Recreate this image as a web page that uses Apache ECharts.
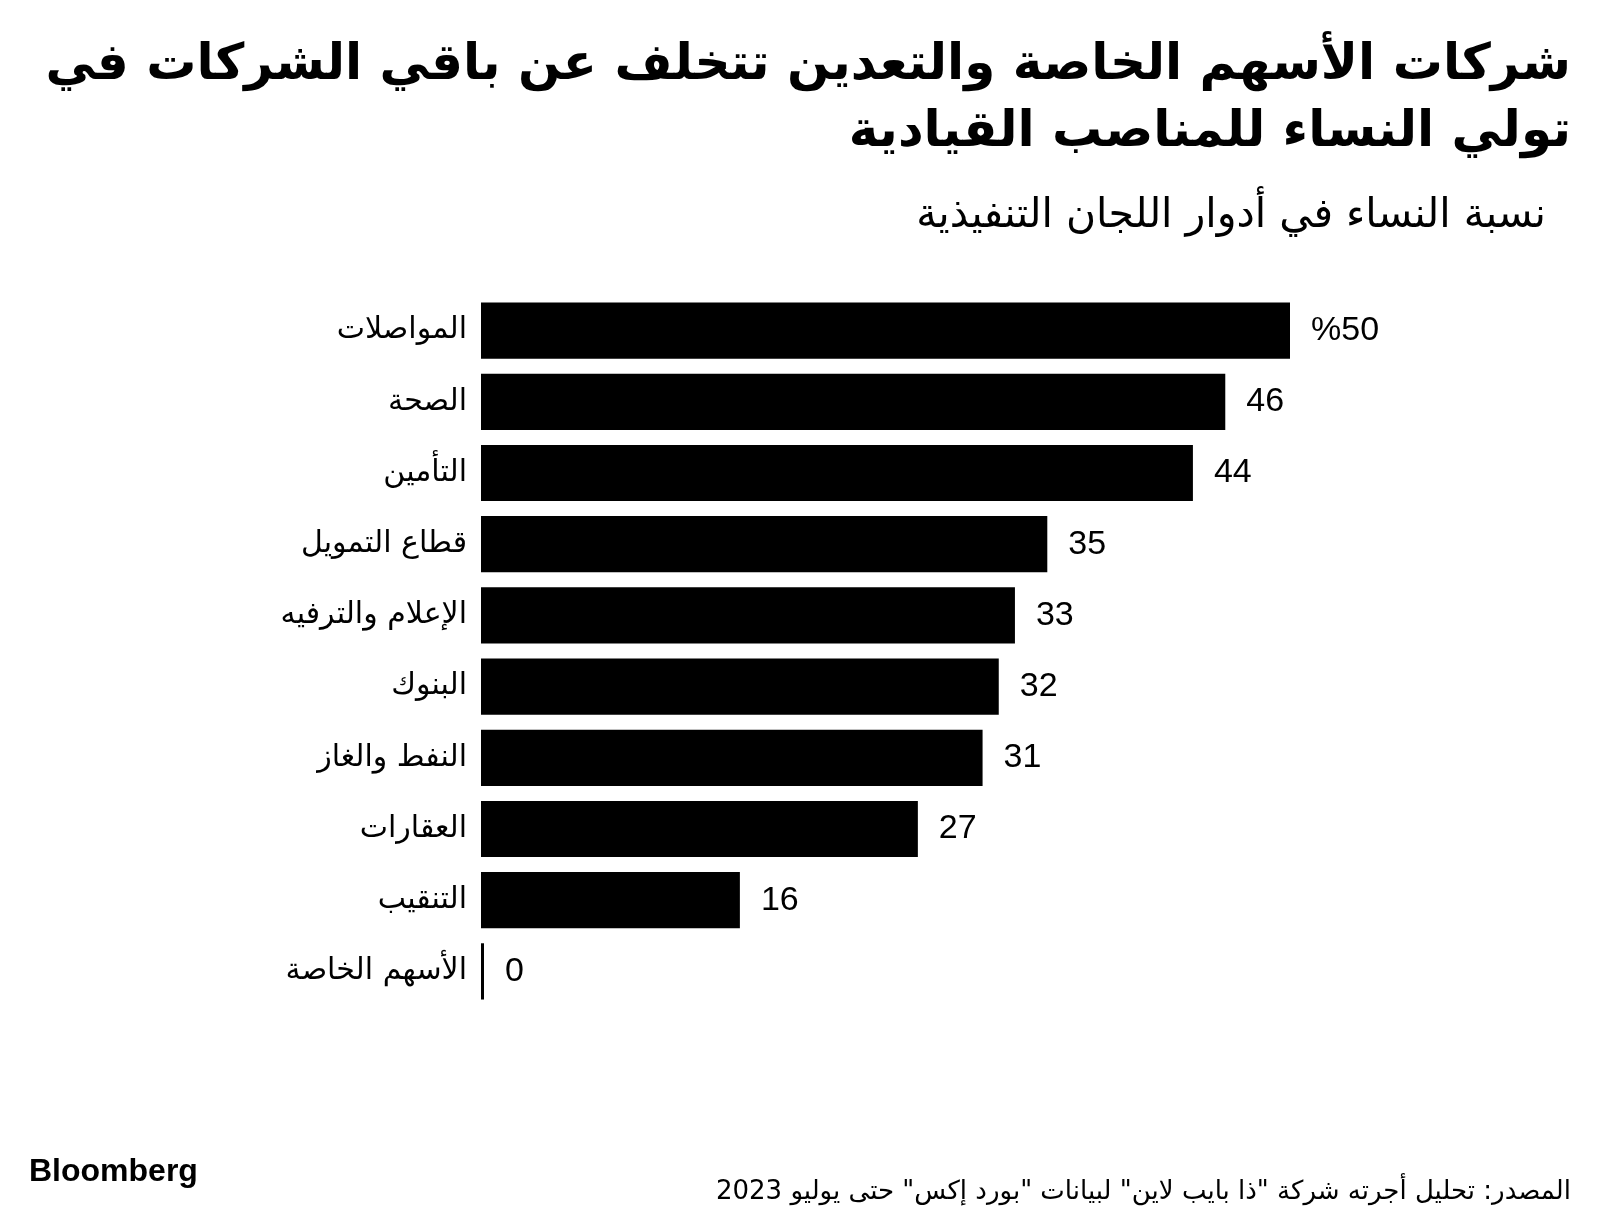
<!DOCTYPE html>
<html>
<head>
<meta charset="utf-8">
<script src="https://cdn.jsdelivr.net/npm/echarts@6/dist/echarts.min.js"></script>
<style>
html,body{margin:0;padding:0;background:#fff;}
#chart{width:1600px;height:1228px;}
</style>
</head>
<body>
<div id="chart"></div>
<script>
const titleLines = ['شركات الأسهم الخاصة والتعدين تتخلف عن باقي الشركات في', 'تولي النساء للمناصب القيادية'];
const subtitle = 'نسبة النساء في أدوار اللجان التنفيذية';
const categories = ['المواصلات','الصحة','التأمين','قطاع التمويل','الإعلام والترفيه','البنوك','النفط والغاز','العقارات','التنقيب','الأسهم الخاصة'];
const values = [50, 46, 44, 35, 33, 32, 31, 27, 16, 0];
const sourceText = 'المصدر: تحليل أجرته شركة "ذا بايب لاين" لبيانات "بورد إكس" حتى يوليو 2023';
const brand = 'Bloomberg';

const arabicFont = '"DejaVu Sans", sans-serif';
const numFont = '"Liberation Sans", Arial, sans-serif';

const chart = echarts.init(document.getElementById('chart'), null, {renderer: 'canvas'});
chart.setOption({
  backgroundColor: '#ffffff',
  animation: false,
  grid: {left: 481, right: 310, top: 295, bottom: 221, containLabel: false},
  xAxis: {type: 'value', min: 0, max: 50, show: false},
  yAxis: {
    type: 'category', data: categories, inverse: true,
    axisLine: {show: false}, axisTick: {show: false},
    axisLabel: {color: '#000', fontFamily: arabicFont, fontSize: 30, margin: 14}
  },
  series: [{
    type: 'bar', data: values, barCategoryGap: '21%', barMinHeight: 3,
    itemStyle: {color: '#000'},
    label: {
      show: true, position: 'right', distance: 21, color: '#000',
      fontFamily: numFont, fontSize: 34,
      formatter: p => (p.dataIndex === 0 ? '%' : '') + p.value
    }
  }],
  graphic: [
    {type: 'text', right: 29, top: 41, style: {text: titleLines[0], font: 'bold 50px ' + arabicFont, fill: '#000', align: 'right'}},
    {type: 'text', right: 29, top: 108, style: {text: titleLines[1], font: 'bold 50px ' + arabicFont, fill: '#000', align: 'right'}},
    {type: 'text', right: 54, top: 196, style: {text: subtitle, font: '41px ' + arabicFont, fill: '#000', align: 'right'}},
    {type: 'text', left: 29, top: 1156, style: {text: brand, font: 'bold 32px ' + numFont, fill: '#000'}},
    {type: 'text', right: 29, top: 1179, style: {text: sourceText, font: '26px ' + arabicFont, fill: '#000', align: 'right'}}
  ]
});
</script>
</body>
</html>
